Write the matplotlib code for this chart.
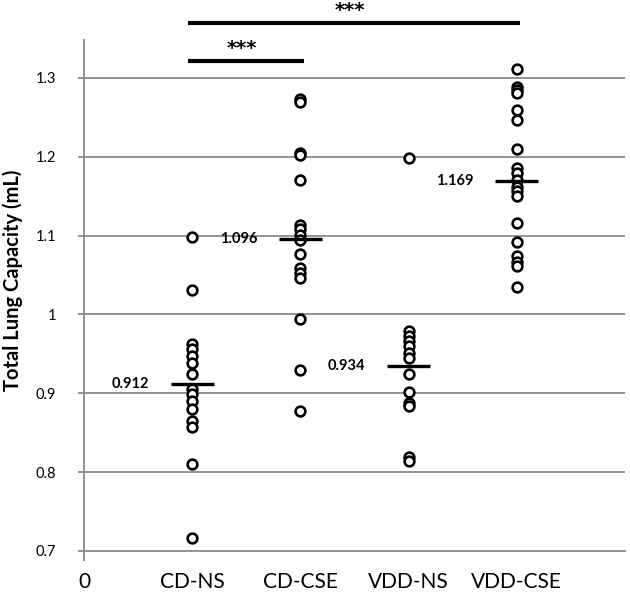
import matplotlib.pyplot as plt
import numpy as np

groups = ["CD-NS", "CD-CSE", "VDD-NS", "VDD-CSE"]
cd_ns = [1.098, 1.031, 0.963, 0.956, 0.947, 0.939, 0.924, 0.905, 0.899,
         0.890, 0.880, 0.865, 0.857, 0.810, 0.716]
cd_cse = [1.273, 1.269, 1.205, 1.202, 1.171, 1.114, 1.108, 1.101, 1.095,
          1.076, 1.059, 1.053, 1.046, 0.994, 0.930, 0.878]
vdd_ns = [1.198, 0.979, 0.973, 0.966, 0.960, 0.951, 0.945, 0.924, 0.901,
          0.888, 0.884, 0.819, 0.814]
vdd_cse = [1.311, 1.289, 1.285, 1.281, 1.259, 1.247, 1.210, 1.186, 1.179,
           1.171, 1.162, 1.156, 1.150, 1.116, 1.092, 1.074, 1.067, 1.061,
           1.035]
means = [0.912, 1.096, 0.934, 1.169]
yticks = [0.7, 0.8, 0.9, 1.0, 1.1, 1.2, 1.3]
ytick_labels = ["0.7", "0.8", "0.9", "1", "1.1", "1.2", "1.3"]

# significance brackets: (from group, to group, height)
sig = [(1, 2, 1.3215, "***"), (1, 4, 1.370, "***")]

plt.rcParams['font.family'] = ['Lato', 'DejaVu Sans']

fig = plt.figure(figsize=(6.3, 5.98), dpi=100)
ax = fig.add_axes([0.1333, 0.0786, 0.8587, 0.8545])

grid_c = '#8a8a8a'
for v in yticks[1:]:
    ax.axhline(v, color=grid_c, lw=1.3, zorder=1)

data = [cd_ns, cd_cse, vdd_ns, vdd_cse]
for i, vals in enumerate(data):
    x = np.full(len(vals), i + 1)
    ax.plot(x, vals, 'o', ms=7, mew=1.9, mec='black', mfc='white',
            zorder=3, clip_on=False)
    m = means[i]
    ax.plot([i + 1 - 0.2, i + 1 + 0.2], [m, m], color='black', lw=2.4,
            zorder=4, solid_capstyle='butt')
    ax.text(i + 1 - 0.4, m, "%.3f" % m, ha='right', va='center',
            fontsize=10.5, fontweight='bold')

for a, b, h, s in sig:
    ax.plot([a - 0.04, b + 0.03], [h, h], color='black', lw=3,
            clip_on=False, solid_capstyle='butt')
    ax.text((a + b) / 2 - 0.04, h + 0.004, s, ha='center', va='bottom',
            fontsize=14, fontweight='bold', family='DejaVu Sans',
            clip_on=False)

ax.set_xlim(0, 5)
ax.set_ylim(0.7, 1.348)
ax.set_yticks(yticks)
ax.set_yticklabels(ytick_labels, fontsize=10.5)
ax.set_xticks(range(0, 5))
ax.set_xticklabels(["0"] + groups, fontsize=15)
ax.tick_params(axis='y', length=4, width=1.3, color=grid_c, pad=16)
ax.tick_params(axis='x', length=7, width=1.3, color=grid_c, pad=8)
for t in ax.xaxis.get_major_ticks()[1:]:
    t.tick1line.set_visible(False)

for sp in ['top', 'right']:
    ax.spines[sp].set_visible(False)
for sp in ['left', 'bottom']:
    ax.spines[sp].set_color(grid_c)
    ax.spines[sp].set_linewidth(1.3)

ax.set_ylabel("Total Lung Capacity (mL)", fontsize=14.5, fontweight='bold')
ax.yaxis.set_label_coords(-0.112, 0.53)

fig.savefig("out.png", dpi=100)
